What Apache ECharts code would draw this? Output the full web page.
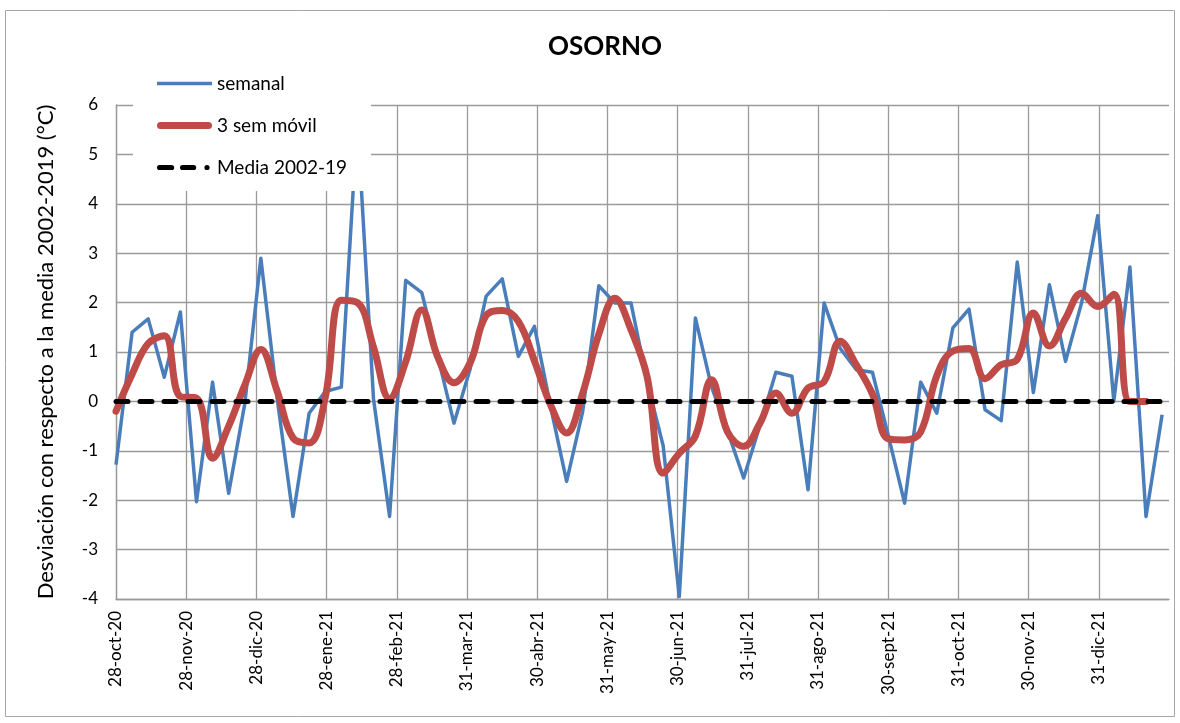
<!DOCTYPE html>
<html>
<head>
<meta charset="utf-8">
<script src="https://cdn.jsdelivr.net/npm/echarts@6/dist/echarts.min.js"></script>
<style>
html,body{margin:0;padding:0;background:#fff;}
#c{width:1180px;height:723px;}
</style>
</head>
<body>
<div id="c"></div>
<script>
// ---- data ----
const tickLabels = ['28-oct-20','28-nov-20','28-dic-20','28-ene-21','28-feb-21','31-mar-21','30-abr-21',
  '31-may-21','30-jun-21','31-jul-21','31-ago-21','30-sept-21','31-oct-21','30-nov-21','31-dic-21',''];

const semanal = [
  -1.28, 1.40, 1.67, 0.49, 1.81, -2.03, 0.39, -1.86, -0.05, 2.90,
   0.10, -2.33, -0.24, 0.20, 0.29, 5.70, 0.05, -2.33, 2.45, 2.20,
   0.90, -0.44, 0.65, 2.13, 2.48, 0.91, 1.52, -0.10, -1.62, -0.20,
   2.34, 1.99, 1.99, 0.40, -0.90, -3.95, 1.69, 0.30, -0.60, -1.55,
  -0.50, 0.59, 0.51, -1.79, 1.99, 1.07, 0.64, 0.59, -0.71, -2.06,
   0.39, -0.24, 1.49, 1.87, -0.17, -0.39, 2.82, 0.18, 2.36, 0.81,
   2.00, 3.76, 0.00, 2.72, -2.33, -0.27
];

const movil3 = [
  -0.20, 0.55, 1.17, 1.33, 0.10, 0.07, -1.15, -0.50, 0.33, 1.05,
   0.22, -0.74, -0.84, 0.08, 2.05, 2.00, 1.10, 0.06, 0.80, 1.85,
   0.89, 0.38, 0.78, 1.74, 1.84, 1.62, 0.82, -0.07, -0.64, 0.17,
   1.36, 2.09, 1.45, 0.50, -1.45, -1.05, -0.70, 0.44, -0.62, -0.91,
  -0.45, 0.17, -0.24, 0.27, 0.40, 1.22, 0.74, 0.15, -0.76, -0.78,
  -0.62, 0.52, 1.02, 1.07, 0.46, 0.74, 0.85, 1.79, 1.12, 1.68,
   2.19, 1.92, 2.17, 0.00, 0.00
];

const media = [
  0,0,0,0,0,0,0,0,0,0, 0,0,0,0,0,0,0,0,0,0,
  0,0,0,0,0,0,0,0,0,0, 0,0,0,0,0,0,0,0,0,0,
  0,0,0,0,0,0,0,0,0,0, 0,0,0,0,0,0,0,0,0,0,
  0,0,0,0,0,0
];

// x axis measured in "label steps" (one step ~ one month); weekly points
const DAYS_PER_STEP = 458 / 15;
const toXY = arr => arr.map((v, i) => [i * 7 / DAYS_PER_STEP, v]);

const FONT = 'Lato, "Liberation Sans", sans-serif';
const GRID_COLOR = '#9a9a9a';

// legend icons (55 x 14 box, anchored by invisible corner points)
const ICON_BLUE = 'path://M0,0M55,14M0,5.2h55v3.6h-55z';
const ICON_RED = 'path://M0,0M55,14M3.6,3.4h47.8a3.6,3.6 0 0 1 0,7.2h-47.8a3.6,3.6 0 0 1 0,-7.2z';
const ICON_DASH = 'path://M0,0M55,14' +
  'M2.6,4.4h12a2.6,2.6 0 0 1 0,5.2h-12a2.6,2.6 0 0 1 0,-5.2z' +
  'M25.6,4.4h11a2.6,2.6 0 0 1 0,5.2h-11a2.6,2.6 0 0 1 0,-5.2z' +
  'M47.4,7a2.6,2.6 0 1 0 5.2,0a2.6,2.6 0 1 0 -5.2,0z';

const chart = echarts.init(document.getElementById('c'), null, {renderer: 'canvas'});
chart.setOption({
  animation: false,
  backgroundColor: '#fff',
  textStyle: {fontFamily: FONT, color: '#000'},
  title: {
    text: 'OSORNO',
    left: 543,
    top: 29,
    textStyle: {fontFamily: FONT, fontSize: 26, fontWeight: 'bold', color: '#000'}
  },
  legend: {
    orient: 'vertical',
    left: 133,
    top: 62,
    padding: [12, 24, 14, 24],
    backgroundColor: '#fff',
    itemWidth: 55,
    itemHeight: 14,
    itemGap: 23,
    textStyle: {fontFamily: FONT, fontSize: 19, color: '#000'},
    data: [
      {name: 'semanal', icon: ICON_BLUE, itemStyle: {color: '#4A7EBB', borderWidth: 0}},
      {name: '3 sem móvil', icon: ICON_RED, itemStyle: {color: '#BE4B48', borderWidth: 0}},
      {name: 'Media 2002-19', icon: ICON_DASH, itemStyle: {color: '#000', borderWidth: 0}}
    ]
  },
  graphic: [{
    type: 'rect',
    silent: true,
    z: -10,
    shape: {x: 5.5, y: 10.5, width: 1169, height: 706},
    style: {fill: null, stroke: '#a6a6a6', lineWidth: 1}
  }],
  grid: {left: 116, right: 11, top: 105, bottom: 124, containLabel: false},
  xAxis: {
    type: 'value',
    min: 0,
    max: 15,
    interval: 1,
    axisLine: {show: true, onZero: false, lineStyle: {color: GRID_COLOR, width: 1.3}},
    axisTick: {show: false},
    splitLine: {show: true, showMaxLine: false, lineStyle: {color: GRID_COLOR, width: 1.3}},
    axisLabel: {
      rotate: 90,
      margin: 12,
      fontFamily: FONT,
      fontSize: 17,
      color: '#000',
      showMaxLabel: false,
      formatter: v => tickLabels[Math.round(v)] || ''
    }
  },
  yAxis: {
    type: 'value',
    min: -4,
    max: 6,
    interval: 1,
    name: 'Desviación con respecto a la media 2002-2019 (°C)',
    nameLocation: 'middle',
    nameGap: 59,
    nameTextStyle: {fontFamily: FONT, fontSize: 22, color: '#000'},
    axisLine: {show: true, lineStyle: {color: GRID_COLOR, width: 1.3}},
    axisTick: {show: false},
    splitLine: {show: true, lineStyle: {color: GRID_COLOR, width: 1.3}},
    axisLabel: {margin: 18, fontFamily: FONT, fontSize: 17, color: '#000'}
  },
  series: [
    {
      name: 'semanal',
      type: 'line',
      data: toXY(semanal),
      symbol: 'none',
      z: 2,
      lineStyle: {color: '#4A7EBB', width: 3.5, join: 'round'},
      itemStyle: {color: '#4A7EBB'}
    },
    {
      name: '3 sem móvil',
      type: 'line',
      data: toXY(movil3),
      symbol: 'none',
      smooth: 0.4,
      z: 3,
      lineStyle: {color: '#BE4B48', width: 7, cap: 'round', join: 'round'},
      itemStyle: {color: '#BE4B48'}
    },
    {
      name: 'Media 2002-19',
      type: 'line',
      data: toXY(media),
      symbol: 'none',
      z: 4,
      lineStyle: {color: '#000', width: 5, type: [12, 12], cap: 'round'},
      itemStyle: {color: '#000'}
    }
  ]
});
</script>
</body>
</html>
